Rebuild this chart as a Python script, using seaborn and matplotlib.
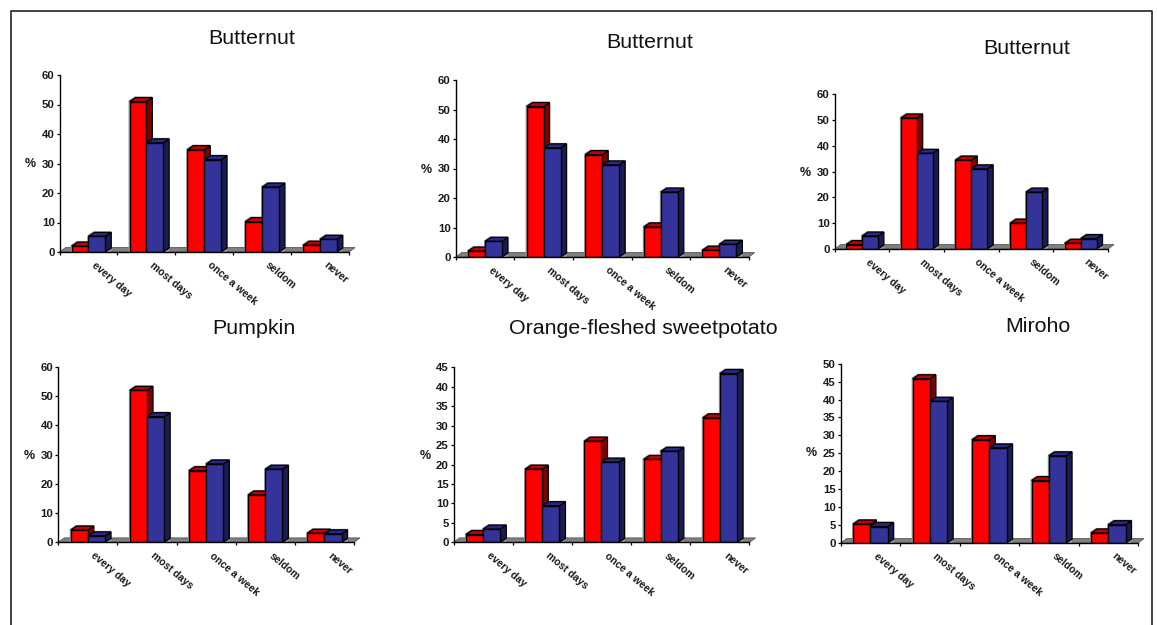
import matplotlib
matplotlib.use('Agg')
import matplotlib.pyplot as plt
from matplotlib.lines import Line2D
from matplotlib.patches import Polygon
from matplotlib.transforms import ScaledTranslation
import pandas as pd
import seaborn as sns

# values
frequency = ['every day', 'most days', 'once a week', 'seldom', 'never']
titles = ['Butternut', 'Butternut', 'Butternut', 'Pumpkin',
          'Orange-fleshed sweetpotato', 'Miroho']

butternut1_red = [2.0, 51.0, 34.7, 10.3, 2.3]
butternut1_blue = [5.3, 37.0, 31.3, 22.0, 4.3]
butternut2_red = [2.0, 51.0, 34.7, 10.2, 2.3]
butternut2_blue = [5.3, 37.0, 31.2, 22.0, 4.3]
butternut3_red = [1.7, 50.7, 34.4, 10.0, 2.2]
butternut3_blue = [5.0, 37.0, 31.0, 22.0, 4.0]
pumpkin_red = [4.2, 52.0, 24.5, 16.2, 3.1]
pumpkin_blue = [2.2, 43.0, 26.8, 25.0, 2.9]
sweetpotato_red = [2.0, 18.8, 26.0, 21.3, 32.0]
sweetpotato_blue = [3.4, 9.4, 20.6, 23.4, 43.4]
miroho_red = [5.3, 45.8, 28.8, 17.4, 2.8]
miroho_blue = [4.6, 39.5, 26.5, 24.3, 5.1]

reds = [butternut1_red, butternut2_red, butternut3_red,
        pumpkin_red, sweetpotato_red, miroho_red]
blues = [butternut1_blue, butternut2_blue, butternut3_blue,
         pumpkin_blue, sweetpotato_blue, miroho_blue]
y_maxes = [60, 60, 60, 60, 45, 50]
y_steps = [10, 10, 10, 10, 5, 5]

# layout in pixels of the reference: left, right, top, bottom
boxes = [(59.5, 349, 75, 252), (455.7, 748.7, 80, 257), (834.7, 1108, 94, 249),
         (58.3, 354, 367, 542.3), (453.5, 749.5, 367.3, 542.3), (840.7, 1138, 363.7, 543)]
title_xy = [(252, 38), (650, 43), (1027, 48), (254, 329), (643, 329), (1038, 327)]
percent_xy = [(30, 164), (426, 170), (805, 173), (29, 456), (425, 456), (811, 453)]

W, H = 1157, 625
DEPTH_X, DEPTH_Y = 6.0, 4.0  # fake 3d depth, pixels

sns.set_theme(style='white')
plt.rcParams['font.family'] = ['Liberation Sans', 'DejaVu Sans']

fig = plt.figure(figsize=(W / 100, H / 100), dpi=100)


def draw_depth(ax, bar, top_color, side_color, dx, dy, px, py):
    x0, w, h = bar.get_x(), bar.get_width(), bar.get_height()
    x1 = x0 + w
    # thin gray shadow up and left of the bar
    shadow = [(x0 - px, 0), (x0 - px, h + py), (x0 + dx - px, h + dy + py),
              (x1 + dx, h + dy + py), (x1 + dx, 0)]
    ax.add_patch(Polygon(shadow, closed=True, facecolor='#9a9a9a', edgecolor='none',
                         zorder=2.5, clip_on=False))
    side = [(x1, 0), (x1 + dx, dy), (x1 + dx, h + dy), (x1, h)]
    top = [(x0, h), (x0 + dx, h + dy), (x1 + dx, h + dy), (x1, h)]
    for pts, color in ((side, side_color), (top, top_color)):
        ax.add_patch(Polygon(pts, closed=True, facecolor=color, edgecolor='black',
                             linewidth=0.9, zorder=3, clip_on=False))


for i in range(6):
    left, right, top, bottom = boxes[i]
    ax = fig.add_axes([left / W, 1 - bottom / H, (right - left) / W, (bottom - top) / H])

    df = pd.DataFrame({
        'frequency': frequency * 2,
        'value': reds[i] + blues[i],
        'group': ['red'] * 5 + ['blue'] * 5,
    })
    sns.barplot(data=df, x='frequency', y='value', hue='group', ax=ax,
                palette={'red': '#FF0000', 'blue': '#333399'}, width=0.58, gap=0,
                saturation=1, edgecolor='black', linewidth=1, legend=False, zorder=5)

    ax.set_xlim(-0.5, 4.5)
    ax.set_ylim(0, y_maxes[i])
    dx = DEPTH_X * 5 / (right - left)
    dy = DEPTH_Y * y_maxes[i] / (bottom - top)
    px = 5 / (right - left)
    py = y_maxes[i] / (bottom - top)

    # floor
    ax.add_patch(Polygon([(-0.5, 0), (4.5, 0), (4.5 + dx, 1.1 * dy), (-0.5 + dx, 1.1 * dy)], closed=True,
                         facecolor='#808080', edgecolor='#555555', linewidth=0.6,
                         zorder=2, clip_on=False))

    for bar in ax.containers[0]:
        draw_depth(ax, bar, '#C00000', '#800000', dx, dy, px, py)
    for bar in ax.containers[1]:
        draw_depth(ax, bar, '#28287F', '#1C1C55', dx, dy, px, py)

    sns.despine(ax=ax)
    for s in ('left', 'bottom'):
        ax.spines[s].set_color('black')
        ax.spines[s].set_linewidth(1)
        ax.spines[s].set_zorder(6)

    ax.set_xlabel('')
    ax.set_ylabel('')
    ax.set_yticks(range(0, y_maxes[i] + 1, y_steps[i]))
    ax.tick_params(axis='y', length=2.5, width=0.9, color='black', left=True, pad=1,
                   labelsize=8.2, labelcolor='#1a1a1a')
    for lab in ax.get_yticklabels():
        lab.set_fontweight('bold')

    # ticks between the groups, names at the centres
    ax.set_xticks([k - 0.5 for k in range(6)])
    ax.set_xticklabels([])
    ax.tick_params(axis='x', which='major', length=2.5, width=0.9, color='black', bottom=True)
    ax.set_xticks(range(5), frequency, minor=True)
    ax.tick_params(axis='x', which='minor', length=0, pad=6)
    shift = ScaledTranslation(8 / 100, 0, fig.dpi_scale_trans)
    for lab in ax.get_xticklabels(minor=True):
        lab.set(rotation=-40, ha='left', va='top', rotation_mode='anchor',
                fontweight='bold', fontsize=7.5, color='#1a1a1a')
        lab.set_transform(lab.get_transform() + shift)

    fig.text(title_xy[i][0] / W, 1 - title_xy[i][1] / H, titles[i], fontsize=15.4,
             ha='center', va='center', color='#111111')
    fig.text(percent_xy[i][0] / W, 1 - percent_xy[i][1] / H, '%', fontsize=9,
             fontweight='bold', ha='center', va='center', color='#1a1a1a')

# frame, open at the bottom
fx = [11 / W, 11 / W, 1151.5 / W, 1151.5 / W]
fy = [0, 1 - 10.5 / H, 1 - 10.5 / H, 0]
fig.add_artist(Line2D(fx, fy, color='#222222', linewidth=1.2, transform=fig.transFigure))

fig.savefig('out.png', dpi=100)
